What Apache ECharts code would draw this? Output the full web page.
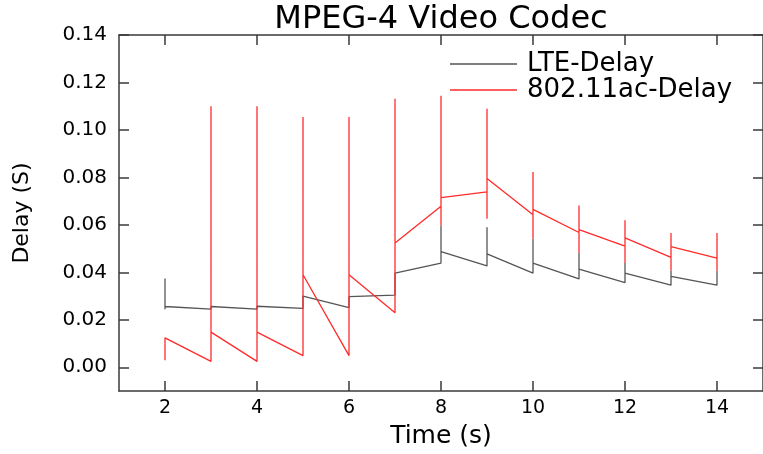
<!DOCTYPE html>
<html>
<head>
<meta charset="utf-8">
<script src="https://cdn.jsdelivr.net/npm/echarts@6/dist/echarts.min.js"></script>
<style>
  html, body { margin: 0; padding: 0; background: #ffffff; }
  #chart { width: 763px; height: 454px; }
</style>
</head>
<body>
<div id="chart"></div>
<script>
// ---- data ----
const chartTitle = 'MPEG-4 Video Codec';
const xName = 'Time (s)';
const yName = 'Delay (S)';
const seriesNames = ['LTE-Delay', '802.11ac-Delay'];

const xTicks = [2, 4, 6, 8, 10, 12, 14];
const yTicks = [0, 0.02, 0.04, 0.06, 0.08, 0.10, 0.12, 0.14];

const lteTime  = [2, 2, 2, 3, 3, 4, 4, 5, 5, 6, 6, 7, 7, 8, 8, 8, 9, 9, 9, 10, 10, 10, 11, 11, 11, 12, 12, 12, 13, 13, 13, 14, 14];
const lteDelay = [0.0374, 0.0244, 0.0256, 0.0245, 0.0256, 0.0245, 0.0257, 0.0248, 0.0300, 0.0251, 0.0298, 0.0304, 0.0397,
                  0.0439, 0.0597, 0.0487, 0.0427, 0.0590, 0.0478, 0.0397, 0.0541, 0.0439, 0.0372, 0.0484, 0.0414,
                  0.0357, 0.0439, 0.0397, 0.0346, 0.0407, 0.0383, 0.0346, 0.0407];

const wifiTime  = [2, 2, 3, 3, 3, 4, 4, 4, 5, 5, 5, 6, 6, 6, 7, 7, 7, 8, 8, 8, 8, 9, 9, 9, 9, 10, 10, 10, 10, 11, 11, 11, 11, 12, 12, 12, 12, 13, 13, 13, 13, 14, 14, 14];
const wifiDelay = [0.0030, 0.0124, 0.0025, 0.1100, 0.0148, 0.0025, 0.1100, 0.0148, 0.0049, 0.1054, 0.0390,
                   0.0049, 0.1054, 0.0390, 0.0230, 0.1131, 0.0524, 0.0678, 0.1144, 0.0597, 0.0715,
                   0.0739, 0.1089, 0.0626, 0.0795, 0.0643, 0.0823, 0.0541, 0.0665, 0.0568, 0.0682, 0.0484, 0.0580,
                   0.0510, 0.0619, 0.0439, 0.0545, 0.0463, 0.0566, 0.0407, 0.0508, 0.0460, 0.0566, 0.0407];

const lteData = lteTime.map((t, i) => [t, lteDelay[i]]);
const wifiData = wifiTime.map((t, i) => [t, wifiDelay[i]]);

const FONT = 'DejaVu Sans';
const AXIS_COLOR = '#3a3a3a';
const LTE_COLOR = '#555555';
const WIFI_COLOR = '#ff2a2a';

const chart = echarts.init(document.getElementById('chart'), null, { renderer: 'canvas' });

function baseX(extra) {
  return Object.assign({
    type: 'value', min: 1, max: 15,
    axisLine: { show: true, onZero: false, lineStyle: { color: AXIS_COLOR, width: 1.5 } },
    axisTick: { show: true, inside: true, length: 10, customValues: xTicks, lineStyle: { color: AXIS_COLOR, width: 1.5 } },
    splitLine: { show: false }
  }, extra);
}
function baseY(extra) {
  return Object.assign({
    type: 'value', min: -0.01, max: 0.14,
    axisLine: { show: true, onZero: false, lineStyle: { color: AXIS_COLOR, width: 1.5 } },
    axisTick: { show: true, inside: true, length: 10, customValues: yTicks, lineStyle: { color: AXIS_COLOR, width: 1.5 } },
    splitLine: { show: false }
  }, extra);
}

chart.setOption({
  animation: false,
  backgroundColor: '#ffffff',
  title: {
    text: chartTitle,
    left: 441, top: 4, padding: 0,
    textAlign: 'center',
    textStyle: { fontFamily: FONT, fontSize: 32, fontWeight: 'normal', color: '#000' }
  },
  legend: {
    orient: 'vertical',
    left: 450, top: 51, padding: 0,
    icon: 'rect',
    itemWidth: 67, itemHeight: 1.5, itemGap: 0,
    textStyle: { fontFamily: FONT, fontSize: 26, color: '#000', padding: [0, 0, 0, 5] },
    data: [
      { name: seriesNames[0], itemStyle: { color: LTE_COLOR } },
      { name: seriesNames[1], itemStyle: { color: WIFI_COLOR } }
    ]
  },
  grid: { left: 119, top: 35, width: 647, height: 356, containLabel: false },
  xAxis: [
    baseX({
      position: 'bottom',
      name: xName, nameLocation: 'middle', nameGap: 33,
      nameTextStyle: { fontFamily: FONT, fontSize: 25, color: '#000' },
      axisLabel: { show: true, customValues: xTicks, margin: 8, fontFamily: FONT, fontSize: 19, color: '#000' }
    }),
    baseX({ position: 'top', axisLabel: { show: false } })
  ],
  yAxis: [
    baseY({
      position: 'left',
      name: yName, nameLocation: 'middle', nameGap: 86,
      nameTextStyle: { fontFamily: FONT, fontSize: 22, color: '#000' },
      axisLabel: { show: true, customValues: yTicks, margin: 12, fontFamily: FONT, fontSize: 20, color: '#000',
                   formatter: v => v.toFixed(2) }
    }),
    baseY({ position: 'right', axisLabel: { show: false } })
  ],
  series: [
    {
      name: seriesNames[0], type: 'line', data: lteData,
      xAxisIndex: 0, yAxisIndex: 0,
      symbol: 'none', color: LTE_COLOR,
      lineStyle: { color: LTE_COLOR, width: 1.3 }
    },
    {
      name: seriesNames[1], type: 'line', data: wifiData,
      xAxisIndex: 0, yAxisIndex: 0,
      symbol: 'none', color: WIFI_COLOR,
      lineStyle: { color: WIFI_COLOR, width: 1.3 }
    }
  ]
});
</script>
</body>
</html>
